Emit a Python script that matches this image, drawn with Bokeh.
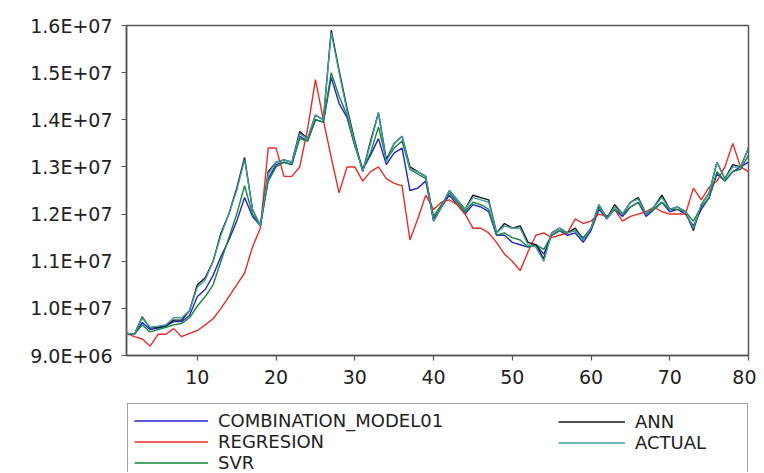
from bokeh.plotting import figure
from bokeh.layouts import column
from bokeh.models import Range1d, FixedTicker, Legend, LegendItem
from bokeh.embed import file_html
from bokeh.resources import INLINE

# observation index
obs = list(range(1, 81))

# values in units of 1e6
combination = [9.47, 9.45, 9.70, 9.55, 9.58, 9.62, 9.72, 9.72, 9.85, 10.25,
               10.40, 10.70, 11.10, 11.45, 11.85, 12.35, 11.95, 11.75, 12.75, 13.05,
               13.10, 13.05, 13.65, 13.55, 14.00, 13.95, 14.90, 14.35, 14.05, 13.45,
               12.95, 13.25, 13.60, 13.05, 13.30, 13.40, 12.50, 12.55, 12.70, 11.90,
               12.15, 12.40, 12.20, 12.00, 12.20, 12.15, 12.05, 11.55, 11.55, 11.40,
               11.35, 11.30, 11.35, 11.15, 11.55, 11.65, 11.55, 11.60, 11.40, 11.65,
               12.10, 11.90, 12.10, 11.95, 12.15, 12.25, 11.95, 12.10, 12.25, 12.05,
               12.10, 12.00, 11.75, 12.10, 12.35, 12.85, 12.70, 12.90, 13.00, 13.10]

regresion = [9.47, 9.40, 9.35, 9.20, 9.45, 9.45, 9.57, 9.40, 9.47, 9.53,
             9.65, 9.78, 10.00, 10.25, 10.50, 10.75, 11.30, 11.70, 13.40, 13.40,
             12.80, 12.80, 13.00, 13.80, 14.85, 14.00, 13.20, 12.45, 13.00, 13.00,
             12.70, 12.90, 13.00, 12.75, 12.65, 12.60, 11.45, 11.90, 12.40, 12.10,
             12.25, 12.30, 12.20, 12.00, 11.70, 11.70, 11.60, 11.40, 11.15, 11.00,
             10.80, 11.20, 11.55, 11.60, 11.50, 11.55, 11.60, 11.90, 11.80, 11.85,
             12.00, 11.95, 12.10, 11.85, 11.95, 12.00, 12.05, 12.15, 12.05, 12.00,
             12.00, 12.00, 12.55, 12.30, 12.57, 12.70, 13.00, 13.50, 13.00, 12.90]

svr = [9.47, 9.45, 9.65, 9.50, 9.55, 9.60, 9.65, 9.68, 9.80, 10.05,
       10.25, 10.50, 11.00, 11.50, 12.00, 12.60, 12.00, 11.75, 12.70, 13.00,
       13.10, 13.05, 13.60, 13.55, 14.00, 13.95, 15.00, 14.50, 14.10, 13.45,
       12.95, 13.30, 13.85, 13.15, 13.40, 13.55, 12.95, 12.85, 12.75, 11.95,
       12.20, 12.45, 12.25, 12.05, 12.25, 12.20, 12.10, 11.55, 11.60, 11.50,
       11.45, 11.30, 11.35, 11.25, 11.55, 11.65, 11.60, 11.65, 11.50, 11.70,
       12.15, 11.95, 12.10, 12.00, 12.15, 12.25, 12.00, 12.10, 12.25, 12.10,
       12.10, 12.05, 11.85, 12.15, 12.35, 12.90, 12.70, 12.90, 12.95, 13.25]

ann = [9.47, 9.45, 9.82, 9.58, 9.60, 9.64, 9.75, 9.75, 9.95, 10.50,
       10.65, 11.00, 11.60, 12.00, 12.55, 13.20, 12.10, 11.75, 12.90, 13.10,
       13.15, 13.10, 13.75, 13.60, 14.10, 14.00, 15.90, 15.05, 14.25, 13.55,
       12.90, 13.55, 14.15, 13.15, 13.50, 13.65, 13.00, 12.90, 12.80, 11.85,
       12.15, 12.50, 12.30, 12.10, 12.40, 12.35, 12.30, 11.60, 11.80, 11.70,
       11.75, 11.40, 11.35, 11.05, 11.60, 11.70, 11.60, 11.70, 11.45, 11.70,
       12.20, 11.90, 12.20, 12.00, 12.25, 12.35, 12.00, 12.15, 12.40, 12.10,
       12.15, 12.05, 11.65, 12.20, 12.45, 13.10, 12.75, 13.05, 13.00, 13.40]

actual = [9.47, 9.45, 9.80, 9.60, 9.62, 9.65, 9.80, 9.80, 9.95, 10.45,
          10.60, 11.00, 11.55, 12.00, 12.50, 13.15, 12.10, 11.75, 12.85, 13.10,
          13.15, 13.10, 13.70, 13.60, 14.10, 14.00, 15.85, 15.00, 14.20, 13.50,
          12.90, 13.50, 14.15, 13.10, 13.50, 13.65, 12.95, 12.90, 12.80, 11.85,
          12.15, 12.50, 12.30, 12.10, 12.35, 12.30, 12.25, 11.60, 11.75, 11.70,
          11.70, 11.35, 11.30, 11.00, 11.60, 11.70, 11.60, 11.65, 11.45, 11.70,
          12.20, 11.90, 12.15, 12.00, 12.25, 12.32, 12.00, 12.15, 12.35, 12.10,
          12.15, 12.05, 11.70, 12.20, 12.45, 13.10, 12.75, 13.00, 13.00, 13.40]

series_names = ["COMBINATION_MODEL01", "REGRESION", "SVR", "ANN", "ACTUAL"]
series_colors = ["#2323d6", "#ee2b2b", "#15883b", "#151515", "#3f9ea2"]
series_values = [combination, regresion, svr, ann, actual]

y_ticks = [9, 10, 11, 12, 13, 14, 15, 16]
y_tick_labels = ["9.0E+06", "1.0E+07", "1.1E+07", "1.2E+07",
                 "1.3E+07", "1.4E+07", "1.5E+07", "1.6E+07"]
x_ticks = [10, 20, 30, 40, 50, 60, 70, 80]

FONT = "DejaVu Sans"
TXT = "#222222"
AX = "#555555"
LW = 1.4

# ---------------- main chart ----------------
p = figure(width=756, height=402, output_backend="svg", toolbar_location=None,
           x_range=Range1d(1, 80), y_range=Range1d(9, 16),
           min_border_left=125, min_border_right=8, min_border_top=25,
           min_border_bottom=47)
p.background_fill_color = "white"
p.border_fill_color = "white"
p.outline_line_color = AX
p.outline_line_width = 1.5
p.grid.visible = False

for ax in (p.xaxis[0], p.yaxis[0]):
    ax.axis_line_color = AX
    ax.axis_line_width = 1.5
    ax.major_tick_line_color = AX
    ax.major_tick_line_width = 1.2
    ax.major_tick_out = 5
    ax.major_tick_in = 0
    ax.minor_tick_out = 0
    ax.minor_tick_in = 0
    ax.major_label_text_font = FONT
    ax.major_label_text_font_size = "19px"
    ax.major_label_text_color = TXT
    ax.major_label_standoff = 9

p.yaxis[0].ticker = FixedTicker(ticks=y_ticks)
p.yaxis[0].major_label_overrides = {t: l for t, l in zip(y_ticks, y_tick_labels)}
p.xaxis[0].ticker = FixedTicker(ticks=x_ticks)

for vals, col in zip(series_values, series_colors):
    p.line(obs, vals, line_color=col, line_width=LW)

# ---------------- legend strip ----------------
p2 = figure(width=756, height=70, output_backend="svg", toolbar_location=None,
            x_range=Range1d(1, 80), y_range=Range1d(100, 101),
            min_border_left=126, min_border_right=0, min_border_top=0,
            min_border_bottom=0)
p2.axis.visible = False
p2.grid.visible = False
p2.outline_line_color = None
p2.background_fill_color = "white"
p2.border_fill_color = "white"

leg_renderers = []
for vals, col in zip(series_values, series_colors):
    leg_renderers.append(p2.line(obs, vals, line_color=col, line_width=LW))

common = dict(label_text_font=FONT, label_text_font_size="18px",
              label_text_color=TXT, glyph_height=21, label_height=21,
              label_standoff=10, spacing=0, padding=6, margin=0,
              orientation="vertical")

leg_a = Legend(items=[LegendItem(label=series_names[i], renderers=[leg_renderers[i]])
                      for i in range(3)],
               location=(1, -8), glyph_width=74, label_width=523,
               border_line_color="#444444", border_line_width=1.5,
               background_fill_color="white", background_fill_alpha=1.0,
               **common)
leg_b = Legend(items=[LegendItem(label=series_names[i], renderers=[leg_renderers[i]])
                      for i in range(3, 5)],
               location=(426, 13), glyph_width=67, border_line_alpha=0,
               background_fill_alpha=0, **common)
p2.add_layout(leg_a, "center")
p2.add_layout(leg_b, "center")

layout = column(p, p2, spacing=0)
open("out.html", "w").write(file_html(layout, INLINE))
